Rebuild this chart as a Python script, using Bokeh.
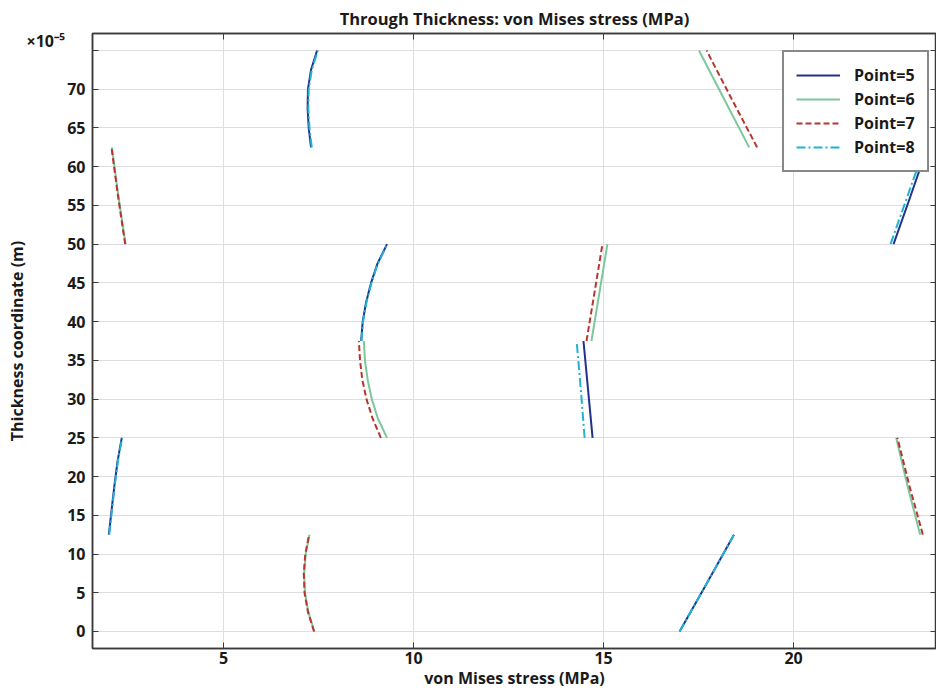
from bokeh.plotting import figure
from bokeh.models import Range1d, FixedTicker, LinearAxis, Legend, LegendItem, Title
from bokeh.embed import file_html
from bokeh.resources import INLINE

# Thickness coordinate in units of 1e-5 m; von Mises stress in MPa.
# Each point: list of segments (one per layer)
point5_y = [[0, 6.25, 12.5], [12.5, 16, 19, 22, 25], [25, 31.25, 37.5],
            [37.5, 40, 42.5, 45, 47.5, 50], [50, 56.25, 62.5],
            [62.5, 65, 67.5, 70, 72.5, 75]]
point5_x = [[17.0, 17.72, 18.43], [1.98, 2.06, 2.13, 2.21, 2.32], [14.71, 14.59, 14.47],
            [8.62, 8.66, 8.75, 8.88, 9.05, 9.30], [22.63, 23.08, 23.52],
            [7.30, 7.24, 7.21, 7.22, 7.30, 7.46]]

point6_y = [[0, 2.5, 5, 7.5, 10, 12.5], [12.5, 18.75, 25], [25, 27.5, 30, 32.5, 35, 37.5],
            [37.5, 43.75, 50], [50, 56.25, 62.5], [62.5, 68.75, 75]]
point6_x = [[7.39, 7.23, 7.14, 7.12, 7.16, 7.26], [23.33, 23.00, 22.70],
            [9.30, 9.06, 8.90, 8.79, 8.72, 8.69], [14.68, 14.89, 15.10],
            [2.42, 2.23, 2.06], [18.83, 18.17, 17.51]]

point7_y = [[0, 2.5, 5, 7.5, 10, 12.5], [12.5, 18.75, 25], [25, 27.5, 30, 32.5, 35, 37.5],
            [37.5, 43.75, 50], [50, 56.25, 62.5], [62.5, 68.75, 75]]
point7_x = [[7.38, 7.22, 7.13, 7.11, 7.15, 7.25], [23.40, 23.05, 22.73],
            [9.14, 8.92, 8.76, 8.65, 8.59, 8.56], [14.55, 14.76, 14.97],
            [2.41, 2.22, 2.05], [19.04, 18.37, 17.71]]

point8_y = [[0, 6.25, 12.5], [12.5, 16, 19, 22, 25], [25, 31.25, 37.5],
            [37.5, 40, 42.5, 45, 47.5, 50], [50, 56.25, 62.5],
            [62.5, 65, 67.5, 70, 72.5, 75]]
point8_x = [[17.0, 17.72, 18.43], [1.99, 2.07, 2.14, 2.22, 2.33], [14.50, 14.40, 14.29],
            [8.63, 8.67, 8.76, 8.89, 9.06, 9.31], [22.55, 23.00, 23.45],
            [7.32, 7.26, 7.23, 7.24, 7.32, 7.48]]

labels = ["Point=5", "Point=6", "Point=7", "Point=8"]
colors = ["#22318c", "#7cc79c", "#b8352e", "#1fb4d4"]
dashes = ["solid", "solid", "6 3", "9 3 2 3"]

y_ticks = [0, 5, 10, 15, 20, 25, 30, 35, 40, 45, 50, 55, 60, 65, 70, 75]
x_ticks = [5, 10, 15, 20]

FONT = "Open Sans"
AX = "#3a3a3a"
TXT = "#1a1a1a"

p = figure(width=936, height=693, output_backend="svg", toolbar_location=None,
           x_range=Range1d(1.55, 23.76), y_range=Range1d(-2.2, 77.2),
           min_border_left=92, min_border_right=0, min_border_top=30, min_border_bottom=45)
p.title_location = None

p.outline_line_color = AX
p.outline_line_width = 1.5

for ax in (p.xaxis[0], p.yaxis[0]):
    ax.axis_line_color = AX
    ax.axis_line_width = 1.5
    ax.major_tick_in = 6
    ax.major_tick_out = 0
    ax.major_tick_line_color = AX
    ax.minor_tick_line_color = None
    ax.major_label_text_font = FONT
    ax.major_label_text_font_size = "16px"
    ax.major_label_text_font_style = "bold"
    ax.major_label_text_color = TXT
    ax.axis_label_text_font = FONT
    ax.axis_label_text_font_size = "16px"
    ax.axis_label_text_font_style = "bold"
    ax.axis_label_text_color = TXT

p.xaxis[0].ticker = FixedTicker(ticks=x_ticks)
p.yaxis[0].ticker = FixedTicker(ticks=y_ticks)
p.yaxis[0].major_label_overrides = {75: ""}
p.xaxis[0].axis_label = "von Mises stress (MPa)"
p.yaxis[0].axis_label = "Thickness coordinate (m)"
p.xaxis[0].major_label_standoff = 3
p.xaxis[0].axis_label_standoff = 0
p.yaxis[0].major_label_standoff = 7
p.yaxis[0].axis_label_standoff = 36

top_ax = LinearAxis(ticker=FixedTicker(ticks=x_ticks),
                    major_label_overrides={t: "" for t in x_ticks},
                    major_label_standoff=0,
                    major_tick_in=6, major_tick_out=0, axis_line_color=AX, axis_line_width=1.5,
                    major_tick_line_color=AX, minor_tick_line_color=None)
right_ax = LinearAxis(ticker=FixedTicker(ticks=y_ticks),
                      major_label_overrides={t: "" for t in y_ticks},
                      major_label_standoff=0,
                      major_tick_in=6, major_tick_out=0, axis_line_color=AX, axis_line_width=1.5,
                      major_tick_line_color=AX, minor_tick_line_color=None)
p.add_layout(top_ax, "above")
p.add_layout(right_ax, "right")

main_title = Title(text="Through Thickness: von Mises stress (MPa)", align="center",
                   standoff=8, text_font=FONT, text_font_size="16.5px",
                   text_font_style="bold", text_color=TXT)
p.add_layout(main_title, "above")

# exponent marker for the thickness axis
exp_title = Title(text="×10⁻⁵", align="left", offset=-66, standoff=-102,
                  text_font=FONT, text_font_size="16px", text_font_style="bold",
                  text_color=TXT)
p.add_layout(exp_title, "above")

p.xgrid.ticker = FixedTicker(ticks=x_ticks)
p.ygrid.ticker = FixedTicker(ticks=y_ticks)
p.grid.grid_line_color = "#dedede"
p.grid.grid_line_width = 1

all_x = [point5_x, point6_x, point7_x, point8_x]
all_y = [point5_y, point6_y, point7_y, point8_y]
renderers = {}
for i in range(4):
    r = p.multi_line(xs=all_x[i], ys=all_y[i], line_color=colors[i], line_width=2,
                     line_dash=dashes[i])
    renderers[i] = r

legend = Legend(items=[LegendItem(label=labels[i], renderers=[renderers[i]]) for i in range(4)],
                location=(690, 476), orientation="vertical",
                glyph_width=44, glyph_height=20, label_height=20, spacing=2,
                padding=12, margin=0, label_standoff=14,
                label_text_font=FONT, label_text_font_size="16px", label_text_font_style="bold",
                label_text_color=TXT,
                border_line_color="#111111", border_line_width=2,
                background_fill_color="white", background_fill_alpha=1)
p.add_layout(legend)

open("out.html", "w").write(file_html(p, INLINE))
